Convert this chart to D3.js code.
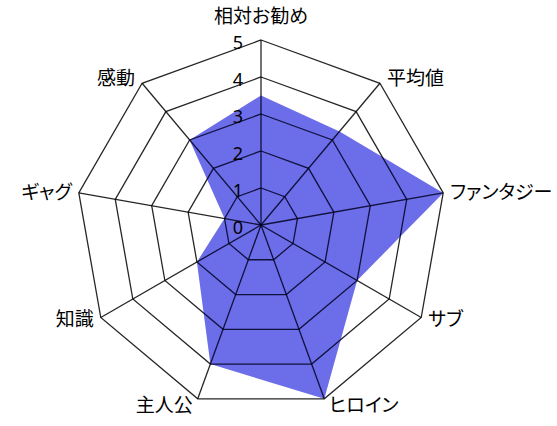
<!DOCTYPE html>
<html>
<head>
<meta charset="utf-8">
<script src="https://cdn.jsdelivr.net/npm/d3@7"></script>
<style>
  body { margin: 0; background: #fff; }
  text { font-family: "Noto Sans CJK JP", "Noto Sans", sans-serif; fill: #000; }
  text.tikk { font-family: "Noto Sans", sans-serif; }
</style>
</head>
<body>
<svg id="radarSVG" width="557" height="426"></svg>
<script>
// 項目 (時計回り、上から)
var kategorier = ["相対お勧め", "平均値", "ファンタジー", "サブ", "ヒロイン", "主人公", "知識", "ギャグ", "感動"];
var verdier = [3.5, 3.3, 5, 3, 5, 4, 2, 1, 3];
var tikkVerdier = [0, 1, 2, 3, 4, 5];

var svg = d3.select("#radarSVG");
var cx = 261, cy = 225;

var r = d3.scaleLinear().domain([0, 5]).range([0, 185]);
var vinkel = d3.scaleLinear().domain([0, kategorier.length]).range([0, 2 * Math.PI]);

function punkt(i, v) {
    var a = vinkel(i);
    return [cx + Math.sin(a) * r(v), cy - Math.cos(a) * r(v)];
}

var g = svg.append("g");

var linje = d3.lineRadial()
    .angle(function(d, i) { return vinkel(i); })
    .radius(function(d) { return r(d); })
    .curve(d3.curveLinearClosed);

var defs = svg.append("defs");
defs.append("filter").attr("id", "myk")
    .append("feGaussianBlur").attr("stdDeviation", 0.6);

// data-flate (under rutenettet)
g.append("path")
    .datum(verdier)
    .attr("transform", "translate(" + cx + "," + cy + ")")
    .attr("d", linje)
    .attr("fill", "rgb(0,7,215)")
    .attr("fill-opacity", 0.5)
    .attr("filter", "url(#myk)");

// rutenett
tikkVerdier.slice(1).forEach(function(t) {
    var pts = kategorier.map(function(k, i) { return punkt(i, t); });
    g.append("polygon")
        .attr("points", pts.map(function(p) { return p.join(","); }).join(" "))
        .attr("fill", "none")
        .attr("stroke", "#000")
        .attr("stroke-width", 1.3)
        .attr("stroke-opacity", 0.85);
});

kategorier.forEach(function(k, i) {
    var p = punkt(i, 5);
    g.append("line")
        .attr("x1", cx).attr("y1", cy)
        .attr("x2", p[0]).attr("y2", p[1])
        .attr("stroke", "#000")
        .attr("stroke-width", 1.3)
        .attr("stroke-opacity", 0.85);
});

// tynt lag over linjene, så de blir mørkeblå innenfor
g.append("path")
    .datum(verdier)
    .attr("transform", "translate(" + cx + "," + cy + ")")
    .attr("d", linje)
    .attr("fill", "rgb(0,7,215)")
    .attr("fill-opacity", 0.15);

// akse-tall
g.selectAll(".tikk")
    .data(tikkVerdier)
    .enter().append("text")
    .attr("class", "tikk")
    .attr("x", cx - 18)
    .attr("y", function(d) { return cy - r(d) + 4; })
    .attr("text-anchor", "end")
    .attr("dominant-baseline", "middle")
    .style("font-size", "18px")
    .text(function(d) { return d; });

// kategorinavn
kategorier.forEach(function(k, i) {
    var a = vinkel(i);
    var p = punkt(i, 5);
    var s = Math.sin(a), c = Math.cos(a);
    var anker = "middle", x = p[0], y = p[1];
    var dx = Math.abs(s) > 0.5 ? 7 : 5;
    if (s > 0.1) { anker = "start"; x += dx; }
    else if (s < -0.1) { anker = "end"; x -= dx; }
    if (c > 0.9) { y -= 17; }
    else if (c > 0.3) { y += 2; }
    else if (c > -0.3) { y += 6; }
    else if (c > -0.7) { y += 8; }
    else { y += 13; }
    g.append("text")
        .attr("x", x)
        .attr("y", y)
        .attr("text-anchor", anker)
        .style("font-size", "19px")
        .style("font-feature-settings", "'palt'")
        .text(k);
});
</script>
</body>
</html>
